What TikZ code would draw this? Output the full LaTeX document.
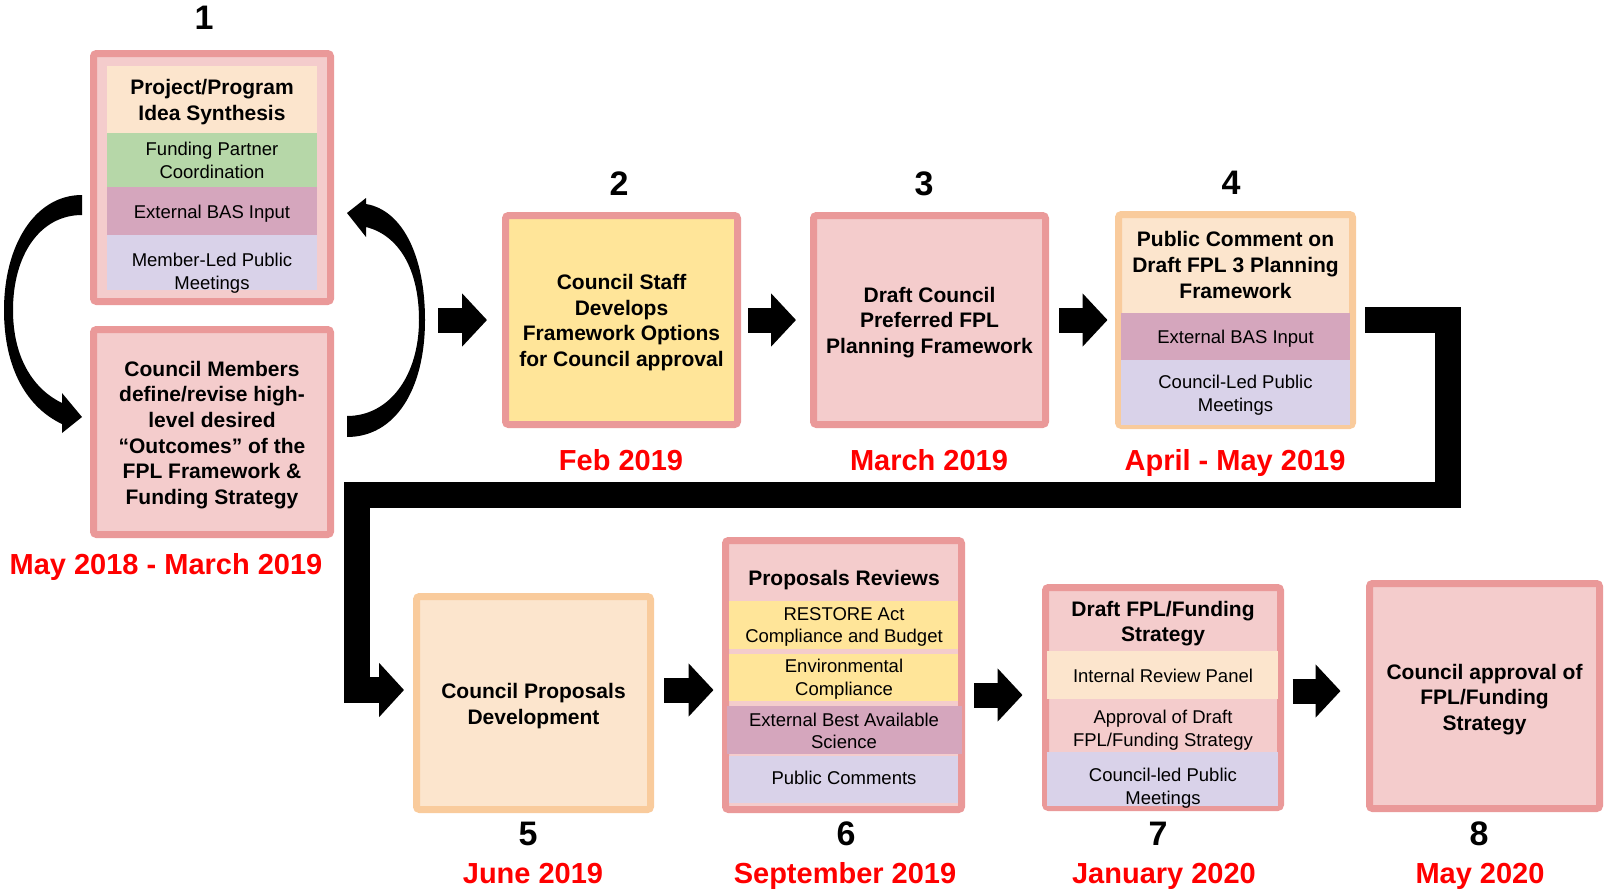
\documentclass[tikz,border=0pt]{standalone}
\usepackage{fontspec}
\setmainfont{Liberation Sans}
\usetikzlibrary{arrows.meta}
\definecolor{pkB}{HTML}{EA9999}
\definecolor{pkF}{HTML}{F4CCCC}
\definecolor{orB}{HTML}{F9CB9C}
\definecolor{orF}{HTML}{FCE5CD}
\definecolor{yeF}{HTML}{FFE599}
\definecolor{grF}{HTML}{B6D7A8}
\definecolor{puF}{HTML}{D5A6BD}
\definecolor{laF}{HTML}{D9D2E9}
\definecolor{dateRed}{HTML}{FF0000}
\begin{document}
\begin{tikzpicture}[x=1pt,y=-1pt,
  box/.style={draw, line width=7pt, rounded corners=3pt, inner sep=0pt},
  pinkbox/.style={box, draw=pkB, fill=pkF},
  yellowbox/.style={box, draw=pkB, fill=yeF},
  peachbox/.style={box, draw=orB, fill=orF},
  bt/.style={font=\fontsize{21}{25.6}\selectfont\bfseries, align=center, inner sep=0pt},
  rt/.style={font=\fontsize{18.5}{22.7}\selectfont, align=center, inner sep=0pt},
  rtone/.style={font=\fontsize{18.5}{22.7}\selectfont, inner sep=0pt, text height=13.3pt, text depth=0pt},
  btone/.style={font=\fontsize{21}{25.6}\selectfont\bfseries, inner sep=0pt, text height=15pt, text depth=0pt},
  num/.style={font=\fontsize{34}{40}\selectfont\bfseries, inner sep=0pt, text height=24.3pt, text depth=0pt},
  date/.style={font=\fontsize{29}{34}\selectfont\bfseries, text=dateRed, inner sep=0pt, text height=20.8pt, text depth=0pt},
  blockarrow/.style={line width=25pt, -{Triangle[length=25pt,width=52pt]}},
  bigconn/.style={line width=26pt, line join=miter, -{Triangle[length=25pt,width=53pt]}},
]
\useasboundingbox (0,0) rectangle (1605,894);

% ---------- boxes ----------
\node[pinkbox, minimum width=237pt, minimum height=248pt] (b1) at (212,177.5) {};
\node[pinkbox, minimum width=237pt, minimum height=205pt] (b1b) at (212,432) {};
\node[yellowbox, minimum width=232pt, minimum height=209pt] (b2) at (621.5,320) {};
\node[pinkbox, minimum width=232pt, minimum height=209pt] (b3) at (929.5,320) {};
\node[peachbox, minimum width=234pt, minimum height=211pt] (b4) at (1235.5,320) {};
\node[peachbox, minimum width=234pt, minimum height=213pt] (b5) at (533.5,703) {};
\node[pinkbox, minimum width=236pt, minimum height=269pt] (b6) at (843.5,675) {};
\node[pinkbox, minimum width=235pt, minimum height=220pt] (b7) at (1163,697.5) {};
\node[pinkbox, minimum width=230pt, minimum height=225pt] (b8) at (1484.5,696) {};

% ---------- section fills ----------
\fill[orF] (107,66) rectangle (317,133);
\fill[grF] (107,133) rectangle (317,187);
\fill[puF] (107,187) rectangle (317,235);
\fill[laF] (107,235) rectangle (317,290);

\fill[puF] (1121,313) rectangle (1350,360);
\fill[laF] (1121,360) rectangle (1350,425);

\fill[yeF] (729,601) rectangle (958,649);
\fill[yeF] (729,654) rectangle (958,701);
\fill[puF] (727,706) rectangle (962,754);
\fill[laF] (729,756) rectangle (958,803);

\fill[orF] (1047,651) rectangle (1278,699);
\fill[laF] (1047,752) rectangle (1278,806);

% ---------- texts ----------
\node[bt] (t1a) at (212,102) {Project/Program\\Idea Synthesis};
\node[rt] (t1b) at (212,160.5) {Funding Partner\\Coordination};
\node[rtone] (t1c) at (212,211.5) {External BAS Input};
\node[rt] (t1d) at (212,273) {Member-Led Public\\Meetings};
\node[bt] (t1e) at (212,435) {Council Members\\define/revise high-\\level desired\\“Outcomes” of the\\FPL Framework \&\\Funding Strategy};

\node[bt] (t2) at (621.5,322.5) {Council Staff\\Develops\\Framework Options\\for Council approval};
\node[bt] (t3) at (929.5,322.5) {Draft Council\\Preferred FPL\\Planning Framework};

\node[bt] (t4a) at (1235.5,265) {Public Comment on\\Draft FPL 3 Planning\\Framework};
\node[rtone] (t4b) at (1235.5,336.5) {External BAS Input};
\node[rt] (t4c) at (1235.5,395.5) {Council-Led Public\\Meetings};

\node[bt] (t5) at (533.5,706) {Council Proposals\\Development};

\node[btone] (t6a) at (844,578) {Proposals Reviews};
\node[rt] (t6b) at (844,627) {RESTORE Act\\Compliance and Budget};
\node[rt] (t6c) at (844,679.5) {Environmental\\Compliance};
\node[rt] (t6d) at (844,731) {External Best Available\\Science};
\node[rtone] (t6e) at (844,778) {Public Comments};

\node[bt] (t7a) at (1163,623.5) {Draft FPL/Funding\\Strategy};
\node[rtone] (t7b) at (1163,675.5) {Internal Review Panel};
\node[rt] (t7c) at (1163,730) {Approval of Draft\\FPL/Funding Strategy};
\node[rt] (t7d) at (1163,788) {Council-led Public\\Meetings};

\node[bt] (t8) at (1484.5,699.5) {Council approval of\\FPL/Funding\\Strategy};

% ---------- numbers ----------
\node[num] (n1) at (204,17) {1};
\node[num] (n2) at (619,183) {2};
\node[num] (n3) at (924,183) {3};
\node[num] (n4) at (1231,182) {4};
\node[num] (n5) at (528,833) {5};
\node[num] (n6) at (846,833) {6};
\node[num] (n7) at (1158,833) {7};
\node[num] (n8) at (1479,833) {8};

% ---------- dates ----------
\node[date] (d1) at (166,564) {May 2018 - March 2019};
\node[date] (d2) at (621,460) {Feb 2019};
\node[date] (d3) at (929,460) {March 2019};
\node[date] (d4) at (1235,460) {April - May 2019};
\node[date] (d5) at (533,873) {June 2019};
\node[date] (d6) at (845,873) {September 2019};
\node[date] (d7) at (1164,873) {January 2020};
\node[date] (d8) at (1480,873) {May 2020};

% ---------- curved arrows ----------
\fill[black] (82,195) .. controls (35,195) and (4,245) .. (4,310)
  .. controls (4,370) and (28,408) .. (62,424) -- (62,433) -- (82,417) -- (62,393) -- (62,403)
  .. controls (35,390) and (13,360) .. (13,310)
  .. controls (13,255) and (40,215) .. (82,215) -- cycle;
\fill[black] (347,416) .. controls (390,416) and (419,375) .. (419,320)
  .. controls (419,268) and (398,235) .. (366,227) -- (366,237) -- (347,213) -- (366,198) -- (366,204)
  .. controls (402,210) and (425,255) .. (425,320)
  .. controls (425,390) and (395,437) .. (347,437) -- cycle;

% ---------- block arrows ----------
\coordinate (a1s) at (438,320);
\draw[blockarrow, shorten >=15pt] (a1s) -- (b2.west);
\draw[blockarrow, shorten <=7pt, shorten >=14pt] (b2.east) -- (b3.west);
\draw[blockarrow, shorten <=10pt, shorten >=7.5pt] (b3.east) -- (b4.west);
\draw[blockarrow, shorten <=10pt, shorten >=8.5pt] ([yshift=13pt]b5.east) -- ([yshift=13pt]b5.east -| b6.west);
\draw[blockarrow, shorten <=9pt, shorten >=19.5pt] ([yshift=-20pt]b6.east) -- ([yshift=-20pt]b6.east -| b7.west);
\draw[blockarrow, shorten <=8.5pt, shorten >=25.5pt] ([yshift=6.5pt]b7.east) -- ([yshift=6.5pt]b7.east -| b8.west);

% ---------- big elbow connector ----------
\coordinate (c1) at (1447.5,495);
\coordinate (c2) at (357,495);
\draw[bigconn, shorten <=9pt, shorten >=9pt] (b4.east) -| (c1) -- (c2) |- ([yshift=13pt]b5.west);
\end{tikzpicture}
\end{document}
